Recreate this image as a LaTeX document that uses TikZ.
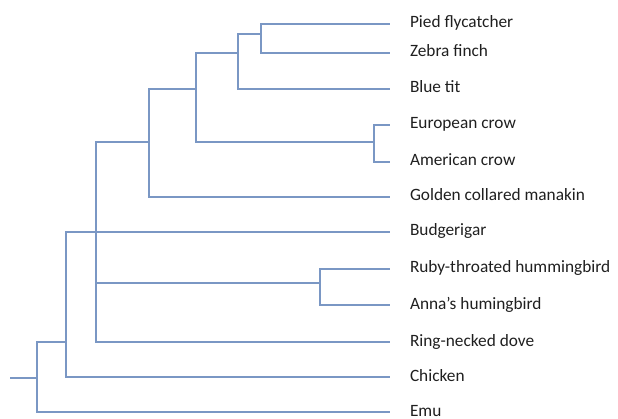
\documentclass[tikz,border=0pt]{standalone}
\usepackage{fontspec}
\setmainfont{Carlito}
\definecolor{branchblue}{RGB}{122,151,196}

\begin{document}
\begin{tikzpicture}[x=1pt, y=-1pt,
  branch/.style={draw=branchblue, line width=2.6pt, line join=miter},
  leaf/.style={anchor=west, inner xsep=0pt, inner ysep=0pt, outer xsep=20pt, outer ysep=0pt,
    text height=11.5pt, text depth=3.5pt, font=\fontsize{17.3}{20}\selectfont, text=black!88}]
\useasboundingbox (0,0) rectangle (618,419);
\node[leaf] (pied) at (390,24) {Pied flycatcher};
\node[leaf] (zebra) at (390,53) {Zebra finch};
\node[leaf] (bluetit) at (390,89) {Blue tit};
\node[leaf] (eucrow) at (390,125) {European crow};
\node[leaf] (amcrow) at (390,162) {American crow};
\node[leaf] (manakin) at (390,197) {Golden collared manakin};
\node[leaf] (budgie) at (390,232) {Budgerigar};
\node[leaf] (ruby) at (390,269) {Ruby-throated hummingbird};
\node[leaf] (anna) at (390,305) {Anna’s humingbird};
\node[leaf] (dove) at (390,342) {Ring-necked dove};
\node[leaf] (chicken) at (390,377) {Chicken};
\node[leaf] (emu) at (390,412) {Emu};
\coordinate (n1) at (261,34);
\coordinate (n2) at (238,53);
\coordinate (n3) at (196,89);
\coordinate (crows) at (374,142);
\coordinate (n4) at (149,142);
\coordinate (hum) at (320,283);
\coordinate (n5) at (96,232);
\coordinate (n6) at (66,342);
\coordinate (root) at (37,378);
\coordinate (stub) at (10,378);
\draw[branch] (n1) |- (pied.west);
\draw[branch] (n1) |- (zebra.west);
\draw[branch] (n2) |- (n1);
\draw[branch] (n2) |- (bluetit.west);
\draw[branch] (crows) |- (eucrow.west);
\draw[branch] (crows) |- (amcrow.west);
\draw[branch] (n3) |- (n2);
\draw[branch] (n3) |- (crows);
\draw[branch] (n4) |- (n3);
\draw[branch] (n4) |- (manakin.west);
\draw[branch] (hum) |- (ruby.west);
\draw[branch] (hum) |- (anna.west);
\draw[branch] (n5) |- (n4);
\draw[branch] (n5) |- (hum);
\draw[branch] (n5) |- (dove.west);
\draw[branch] (n6) |- (budgie.west);
\draw[branch] (n6) |- (chicken.west);
\draw[branch] (root) |- (n6);
\draw[branch] (root) |- (emu.west);
\draw[branch] (stub) -- (root);
\end{tikzpicture}
\end{document}
